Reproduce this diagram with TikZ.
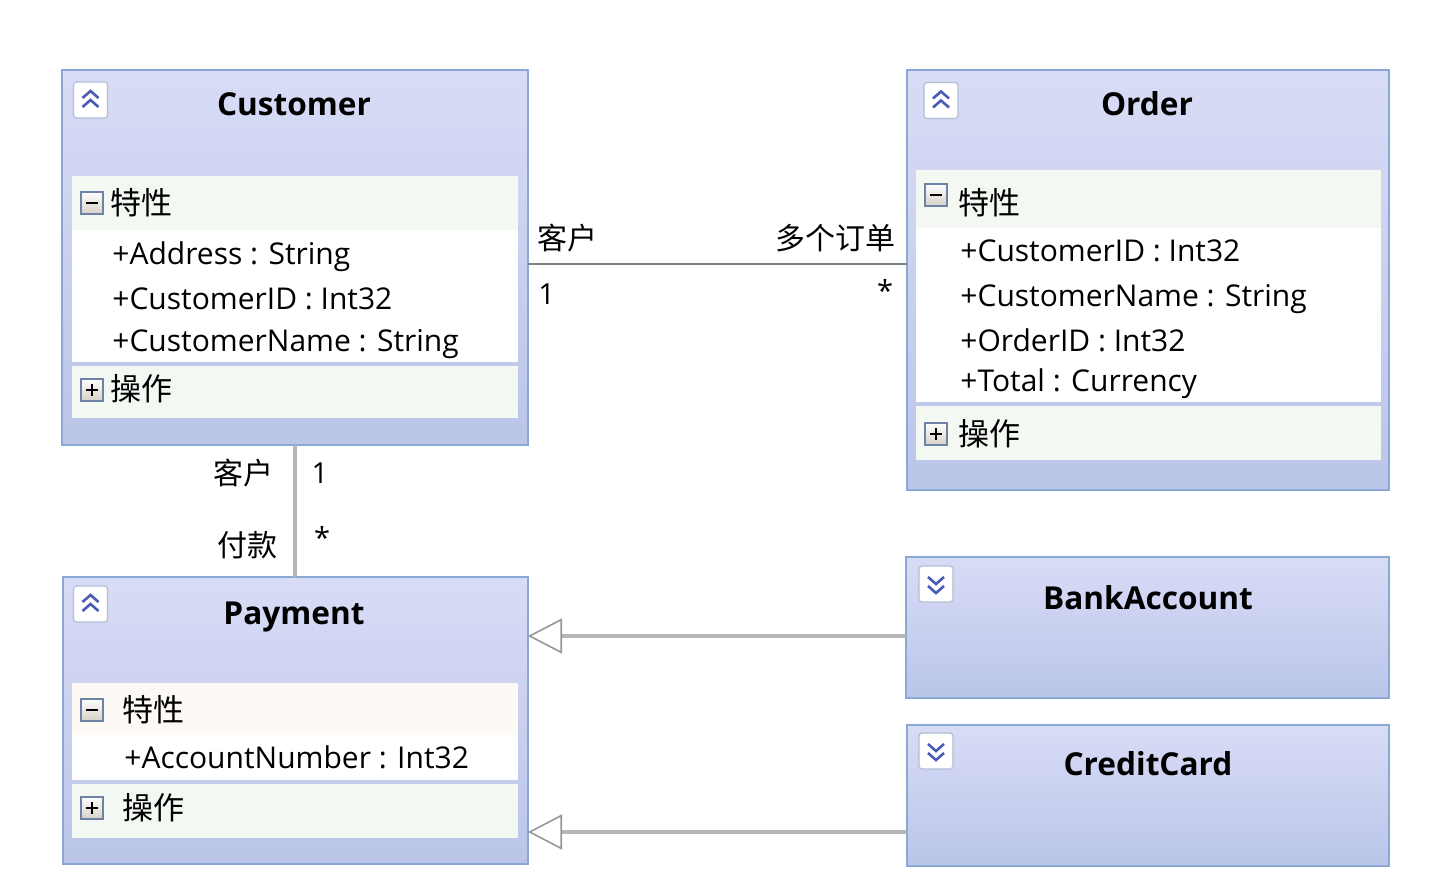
\documentclass[tikz,border=0pt]{standalone}
\usepackage{fontspec}
\setmainfont{Open Sans}
\newfontfamily\cjk{Noto Sans CJK SC}
\usetikzlibrary{arrows.meta}

\definecolor{boxtop}{RGB}{216,220,246}
\definecolor{boxbottom}{RGB}{186,197,232}
\definecolor{boxedge}{RGB}{138,168,214}
\definecolor{bandgreen}{RGB}{243,248,243}
\definecolor{bandcream}{RGB}{253,250,246}
\definecolor{chevblue}{RGB}{72,92,182}
\definecolor{iconedge}{RGB}{176,190,214}
\definecolor{toggleedge}{RGB}{110,130,165}
\definecolor{togglebottom}{RGB}{214,208,198}
\definecolor{linkgray}{RGB}{128,128,128}
\definecolor{inheritgray}{RGB}{182,182,182}
\definecolor{tipgray}{RGB}{150,150,150}

\begin{document}
\begin{tikzpicture}[x=0.5pt,y=-0.5pt]
\tikzset{
	class box/.style = {draw=boxedge, line width=1pt, top color=boxtop, bottom color=boxbottom, inner sep=0, outer sep=0},
	class name/.style = {inner sep=0, font=\fontsize{15.8}{18}\selectfont\bfseries},
	member/.style = {anchor=west, inner sep=0, text height=10.7pt, text depth=0pt, font=\fontsize{15}{18}\selectfont},
	group name/.style = {anchor=west, inner sep=0, font=\fontsize{15.5}{18}\selectfont\cjk},
	end label/.style = {inner sep=0, font=\fontsize{15}{18}\selectfont\cjk},
	mult/.style = {inner sep=0, font=\fontsize{14.5}{17}\selectfont},
	toggle/.style = {draw=toggleedge, line width=0.6pt, top color=white, bottom color=togglebottom, minimum size=11pt, inner sep=0},
	chev icon/.style = {draw=iconedge, line width=0.6pt, fill=white, rounded corners=1.5pt, minimum width=17pt, minimum height=18pt, inner sep=0},
	chev/.style = {draw=chevblue, line width=1.3pt},
	assoc/.style = {draw=linkgray, line width=1pt},
	link/.style = {draw=inheritgray, line width=2pt},
	inherit/.style = {draw=inheritgray, line width=2pt, -{Triangle[open, length=17pt, width=17.5pt, line width=0.8pt, color=tipgray]}},
}
\useasboundingbox (0,0) rectangle (1451,893);

% classes
\node[class box, minimum width=233pt, minimum height=187.5pt](cust) at (295,257.5){};
\node[class box, minimum width=241pt, minimum height=210pt](ord) at (1148,280){};
\node[class box, minimum width=232.5pt, minimum height=143.5pt](pay) at (295.5,720.5){};
\node[class box, minimum width=241.5pt, minimum height=70.5pt](bank) at (1147.5,627.5){};
\node[class box, minimum width=241pt, minimum height=70.5pt](card) at (1148,795.5){};

% compartments
\fill[bandgreen] (72,176) rectangle (518,230);
\fill[white] (72,230) rectangle (518,362);
\fill[bandgreen] (72,366) rectangle (518,418);
\fill[bandgreen] (916,170) rectangle (1381,228);
\fill[white] (916,228) rectangle (1381,402);
\fill[bandgreen] (916,406) rectangle (1381,460);
\fill[bandcream] (72,683) rectangle (518,735);
\fill[white] (72,735) rectangle (518,780);
\fill[bandgreen] (72,784) rectangle (518,838);

% collapse icons
\foreach \x/\y in {90.5/100, 941/100.5, 90.5/604}{
	\node[chev icon] at (\x,\y){};
	\draw[chev] (\x-8,\y-2) -- (\x,\y-9) -- (\x+8,\y-2);
	\draw[chev] (\x-8,\y+7) -- (\x,\y) -- (\x+8,\y+7);
}
\foreach \x/\y in {936/584, 936/751}{
	\node[chev icon] at (\x,\y){};
	\draw[chev] (\x-8,\y-7) -- (\x,\y) -- (\x+8,\y-7);
	\draw[chev] (\x-8,\y+2) -- (\x,\y+9) -- (\x+8,\y+2);
}
\foreach \x/\y in {92/203, 936/195, 92/710}{
	\node[toggle](t) at (\x,\y){};
	\draw[line width=1pt] ([xshift=-3pt]t.center) -- ([xshift=3pt]t.center);
}
\foreach \x/\y in {92/390, 936/434, 92/808}{
	\node[toggle](t) at (\x,\y){};
	\draw[line width=1pt] ([xshift=-3pt]t.center) -- ([xshift=3pt]t.center);
	\draw[line width=1pt] ([yshift=-3pt]t.center) -- ([yshift=3pt]t.center);
}

% Customer
\node[class name](cust-name) at (294,104){Customer};
\node[group name](cust-prop) at (110,203){特性};
\node[member](cust-m1) at (112,254){+Address : String};
\node[member](cust-m2) at (112,299){+CustomerID : Int32};
\node[member](cust-m3) at (112,341){+CustomerName : String};
\node[group name](cust-ops) at (110,389){操作};

% Order
\node[class name](ord-name) at (1147,104){Order};
\node[group name](ord-prop) at (958,203){特性};
\node[member](ord-m1) at (960,251){+CustomerID : Int32};
\node[member](ord-m2) at (960,296){+CustomerName : String};
\node[member](ord-m3) at (960,341){+OrderID : Int32};
\node[member](ord-m4) at (960,381){+Total : Currency};
\node[group name](ord-ops) at (958,434){操作};

% Payment
\node[class name](pay-name) at (294,617){Payment};
\node[group name](pay-prop) at (122,710){特性};
\node[member](pay-m1) at (124,758){+AccountNumber : Int32};
\node[group name](pay-ops) at (122,808){操作};

\node[class name](bank-name) at (1148,598){BankAccount};
\node[class name](card-name) at (1148,764){CreditCard};

% connectors
\draw[assoc] ([yshift=-3.25pt]cust.east) -- ([yshift=-3.25pt]cust.east -| ord.west);
\draw[link] (cust.south) -- (cust.south |- pay.north);
\draw[inherit] ([yshift=-4.25pt]bank.west) -- ([yshift=-4.25pt]bank.west -| pay.east);
\draw[inherit] ([yshift=-18.25pt]card.west) -- ([yshift=-18.25pt]card.west -| pay.east);

\node[end label, anchor=west](co-src) at (537,238){客户};
\node[end label, anchor=east](co-dst) at (896,238){多个订单};
\node[mult, anchor=west](co-n1) at (538,294){1};
\node[mult](co-n2) at (885,290){*};
\node[end label, anchor=east](cp-src) at (274,473){客户};
\node[end label, anchor=east](cp-dst) at (278,545){付款};
\node[mult](cp-n1) at (320,473){1};
\node[mult](cp-n2) at (322,537){*};
\end{tikzpicture}
\end{document}
